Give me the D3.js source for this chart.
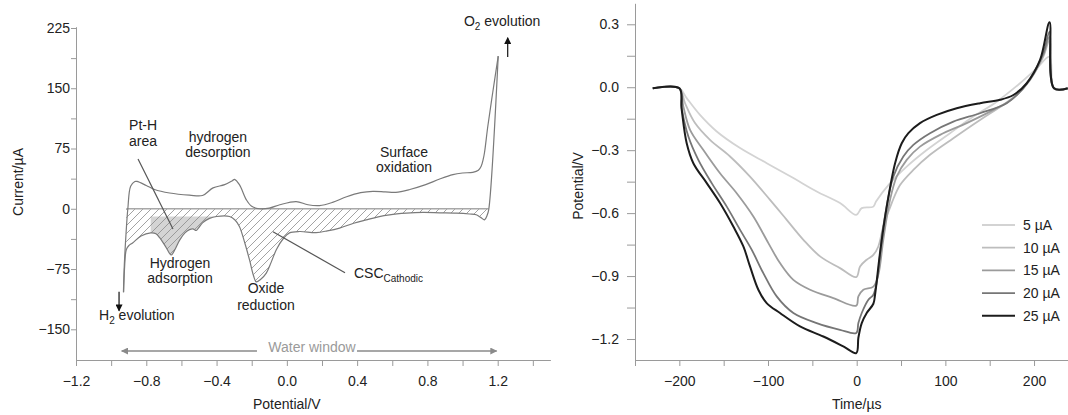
<!DOCTYPE html>
<html>
<head>
<meta charset="utf-8">
<script src="https://cdn.jsdelivr.net/npm/d3@7"></script>
<style>
body { margin: 0; background: #fff; }
svg { font-family: "Liberation Sans", Arial, sans-serif; }
.axis path, .axis line { stroke: #9a9a9a; }
.axis text { font-size: 14px; fill: #222; font-family: "Liberation Sans", Arial, sans-serif; }
.note { font-size: 14px; fill: #222; }
</style>
</head>
<body>
<svg id="fig" width="1068" height="415"></svg>
<script>
// ---- datos: voltamperometría (V, µA) ----
const cvAnodic = [[-0.93,-104],[-0.925,-70],[-0.915,-30],[-0.905,0],[-0.889,28],[-0.865,34],[-0.853,34],[-0.80,29],
  [-0.753,24],[-0.667,19.6],[-0.554,17],[-0.48,16.5],[-0.42,26],[-0.354,30],[-0.31,35],[-0.298,36.6],[-0.27,30],
  [-0.23,11],[-0.2,3],[-0.156,0],[-0.1,0.8],[-0.04,5],[0.053,9],[0.12,5],[0.186,4],[0.26,8],[0.34,15],[0.42,20],
  [0.49,21.7],[0.56,21],[0.62,20.4],[0.70,24],[0.79,30],[0.87,37],[0.945,42.5],[1.0,44.5],[1.058,45.4],[1.09,48],
  [1.106,53],[1.118,62],[1.125,70],[1.144,103],[1.172,145],[1.203,190]];
const cvCathodic = [[-0.929,-104],[-0.924,-75],[-0.914,-51],[-0.9,-46],[-0.878,-42.5],[-0.83,-34],[-0.775,-30],
  [-0.745,-31],[-0.724,-36],[-0.69,-47],[-0.658,-57.5],[-0.635,-50],[-0.61,-39],[-0.58,-30],[-0.554,-26],[-0.535,-25],
  [-0.515,-27],[-0.50,-23],[-0.48,-17.5],[-0.44,-12],[-0.40,-9.6],[-0.326,-9.6],[-0.295,-14],[-0.27,-22],[-0.24,-42],
  [-0.212,-64],[-0.19,-83],[-0.174,-91],[-0.15,-88],[-0.117,-80],[-0.09,-67],[-0.06,-51],[-0.02,-37],[0.015,-30],
  [0.072,-28.3],[0.167,-29.6],[0.23,-27.5],[0.30,-24],[0.38,-18],[0.452,-13.75],[0.52,-10],[0.584,-7.5],[0.68,-5.5],
  [0.774,-4.6],[0.87,-5],[0.964,-5.4],[1.04,-6.5],[1.078,-7.5],[1.105,-11],[1.125,-13.75],[1.14,-8],[1.149,-1],[1.203,190]];
const ptHLevel = -9.6;           // tope del área Pt-H
const ptHRange = [-0.775, -0.33];
const cvTicksX = [-1.2,-1.0,-0.8,-0.6,-0.4,-0.2,0.0,0.2,0.4,0.6,0.8,1.0,1.2,1.4];
const cvTicksY = [-150,-112.5,-75,-37.5,0,37.5,75,112.5,150,187.5,225];

// ---- datos: transitorios de potencial (µs, V) ----
const pulseLabels = ["5 \u00b5A","10 \u00b5A","15 \u00b5A","20 \u00b5A","25 \u00b5A"];
const pulseColors = ["#d3d3d3","#bdbdbd","#9b9b9b","#767676","#1c1c1c"];
const p5 = [[-230,-0.005],[-200,-0.005],[-191.7,-0.052],[-176.7,-0.132],[-157.8,-0.211],[-131.5,-0.29],[-101.4,-0.362],
  [-71.4,-0.433],[-45.1,-0.497],[-18.8,-0.552],[-0.5,-0.608],[5.7,-0.576],[18.8,-0.569],[21.8,-0.545],[37.6,-0.457],
  [56.4,-0.378],[79,-0.299],[105.3,-0.219],[131.6,-0.14],[157.9,-0.069],[184.2,0.019],[203,0.09],[217.5,0.145],
  [222.5,-0.005],[238,-0.005]];
const p10 = [[-230,-0.005],[-200,-0.005],[-193.6,-0.076],[-182.3,-0.171],[-165.4,-0.251],[-142.8,-0.33],[-120.3,-0.426],
  [-97.7,-0.537],[-78.9,-0.632],[-60.1,-0.727],[-41.3,-0.806],[-18.8,-0.862],[-0.5,-0.905],[3.8,-0.854],[11.3,-0.822],
  [18.8,-0.799],[24.4,-0.759],[30,-0.664],[39.5,-0.552],[48.9,-0.466],[63.9,-0.394],[82.7,-0.322],[109,-0.243],
  [139.1,-0.156],[165.4,-0.084],[184.2,-0.021],[199.2,0.059],[210.5,0.146],[217.5,0.222],[222.5,-0.005],[238,-0.005]];
const p15 = [[-230,-0.005],[-200,-0.005],[-195.5,-0.092],[-187.9,-0.203],[-172.9,-0.299],[-154.1,-0.41],[-135.3,-0.505],
  [-116.5,-0.616],[-99.6,-0.743],[-86.5,-0.838],[-71.4,-0.918],[-52.6,-0.965],[-26.3,-1.005],[-0.5,-1.041],[1.9,-0.997],
  [7.5,-0.965],[18.8,-0.95],[24.4,-0.894],[30,-0.727],[37.6,-0.537],[45.1,-0.426],[56.4,-0.346],[71.4,-0.283],
  [94,-0.227],[124,-0.171],[154.1,-0.108],[176.7,-0.052],[195.5,0.035],[210.5,0.154],[217.5,0.24],[222.5,-0.005],[238,-0.005]];
const p20 = [[-230,-0.005],[-200,-0.005],[-197.7,-0.092],[-189.8,-0.235],[-178.6,-0.346],[-163.5,-0.457],[-146.5,-0.569],
  [-131.5,-0.68],[-118.3,-0.775],[-105.3,-0.886],[-90.2,-0.997],[-71.4,-1.076],[-45.1,-1.124],[-18.8,-1.156],[-0.5,-1.171],
  [1.9,-1.124],[5.7,-1.076],[13.2,-1.013],[18.8,-0.989],[22.6,-0.93],[30,-0.664],[41.3,-0.426],[52.6,-0.33],[63.9,-0.275],
  [82.7,-0.219],[109,-0.164],[139.1,-0.124],[169.2,-0.076],[184.2,-0.021],[199.2,0.067],[210.5,0.162],[217.5,0.265],
  [222.5,-0.005],[238,-0.005]];
const p25 = [[-230,-0.005],[-200,-0.005],[-197.3,-0.108],[-191.7,-0.267],[-184.2,-0.362],[-169.1,-0.457],[-154.1,-0.552],
  [-139.1,-0.664],[-127.8,-0.759],[-120.3,-0.854],[-110.9,-0.965],[-101.5,-1.029],[-86.5,-1.076],[-63.9,-1.14],
  [-37.6,-1.188],[-15.1,-1.235],[-0.5,-1.267],[1.9,-1.194],[5.7,-1.124],[11.3,-1.076],[18.8,-1.032],[20.7,-0.989],
  [26.3,-0.79],[33.9,-0.569],[43.3,-0.362],[50.8,-0.267],[58.3,-0.219],[71.4,-0.171],[90.3,-0.132],[112.8,-0.1],
  [139.1,-0.076],[161.7,-0.06],[176.7,-0.037],[191.8,0.019],[206.8,0.13],[217.5,0.31],[222.5,-0.005],[238,-0.005]];
const pulseSeries = [p5, p10, p15, p20, p25];
const pulseTicksX = [-250,-200,-150,-100,-50,0,50,100,150,200];
const pulseTicksY = [-1.2,-1.05,-0.9,-0.75,-0.6,-0.45,-0.3,-0.15,0.0,0.15,0.3];

const svg = d3.select("#fig");
const defs = svg.append("defs");
const fmt1 = d3.format(".1f");

// rayado diagonal
defs.append("pattern")
  .attr("id", "hatch").attr("patternUnits", "userSpaceOnUse")
  .attr("width", 8).attr("height", 8)
  .append("path")
  .attr("d", "M-2,2 L2,-2 M0,8 L8,0 M6,10 L10,6")
  .attr("stroke", "#8c8c8c").attr("stroke-width", 0.8);

// flechas
function marker(id, color, w, h) {
  defs.append("marker")
    .attr("id", id).attr("viewBox", "0 0 10 10")
    .attr("refX", 9).attr("refY", 5)
    .attr("markerUnits", "userSpaceOnUse")
    .attr("markerWidth", w).attr("markerHeight", h)
    .attr("orient", "auto-start-reverse")
    .append("path").attr("d", "M0,0 L10,5 L0,10 z").attr("fill", color);
}
marker("arrK", "#111", 8, 7);
marker("arrG", "#8a8a8a", 9, 7);

// ================= panel izquierdo =================
const xL = d3.scaleLinear().domain([-1.2, 1.5]).range([76, 550.4]);
const yL = d3.scaleLinear().domain([-188.2, 226.6]).range([360, 26.7]);

svg.append("g").attr("class", "axis")
  .attr("transform", `translate(0,${yL.range()[0]})`)
  .call(d3.axisBottom(xL).tickValues(cvTicksX).tickSize(6).tickPadding(10).tickSizeOuter(0)
    .tickFormat((d, i) => i % 2 ? "" : fmt1(d)));
svg.append("g").attr("class", "axis")
  .attr("transform", `translate(${xL.range()[0]},0)`)
  .call(d3.axisLeft(yL).tickValues(cvTicksY).tickSize(5).tickPadding(1).tickSizeOuter(0)
    .tickFormat(d => d % 75 === 0 ? d3.format("d")(d) : ""));

const cvLine = d3.line().x(d => xL(d[0])).y(d => yL(d[1])).curve(d3.curveCatmullRom.alpha(0.5));
const cvArea = d3.area().x(d => xL(d[0])).y0(yL(0)).y1(d => yL(d[1])).curve(d3.curveCatmullRom.alpha(0.5));
const hatchPts = cvCathodic.slice(2, -1);

defs.append("clipPath").attr("id", "clipPtH")
  .append("rect")
  .attr("x", xL(ptHRange[0])).attr("width", xL(ptHRange[1]) - xL(ptHRange[0]))
  .attr("y", yL(ptHLevel)).attr("height", yL(-150) - yL(ptHLevel));

svg.append("path").attr("d", cvArea(hatchPts)).attr("fill", "#d4d4d4").attr("clip-path", "url(#clipPtH)");
svg.append("path").attr("d", cvArea(hatchPts)).attr("fill", "url(#hatch)");
svg.append("line")
  .attr("x1", xL(hatchPts[0][0])).attr("x2", xL(hatchPts[hatchPts.length - 1][0]))
  .attr("y1", yL(0)).attr("y2", yL(0))
  .attr("stroke", "#a8a8a8").attr("stroke-width", 1.6);
svg.append("path").attr("d", cvLine(cvCathodic)).attr("fill", "none").attr("stroke", "#7a7a7a").attr("stroke-width", 1.2);
svg.append("path").attr("d", cvLine(cvAnodic)).attr("fill", "none").attr("stroke", "#7a7a7a").attr("stroke-width", 1.2);

// anotaciones
function note(x, y, lines, anchor) {
  lines.forEach((t, i) => {
    svg.append("text").attr("class", "note")
      .attr("x", xL(x)).attr("y", yL(y[i]))
      .attr("text-anchor", anchor || "middle").text(t);
  });
}
note(-0.898, [98.1, 78.2], ["Pt-H", "area"], "start");
note(-0.392, [83.5, 64.8], ["hydrogen", "desorption"]);
note(0.667, [64.5, 45.8], ["Surface", "oxidation"]);
note(-0.608, [-73.3, -92.3], ["Hydrogen", "adsorption"]);
note(-0.119, [-104.8, -126], ["Oxide", "reduction"]);

const o2 = svg.append("text").attr("class", "note").attr("x", xL(1.008)).attr("y", yL(227.5));
o2.append("tspan").text("O");
o2.append("tspan").attr("font-size", 10).attr("dy", 4).text("2");
o2.append("tspan").attr("dy", -4).text(" evolution");

const h2 = svg.append("text").attr("class", "note").attr("x", xL(-1.069)).attr("y", yL(-138.4));
h2.append("tspan").text("H");
h2.append("tspan").attr("font-size", 10).attr("dy", 4).text("2");
h2.append("tspan").attr("dy", -4).text(" evolution");

const csc = svg.append("text").attr("class", "note").attr("x", xL(0.382)).attr("y", yL(-86.5));
csc.append("tspan").text("CSC");
csc.append("tspan").attr("font-size", 10).attr("dy", 4).text("Cathodic");

function pointer(a, b, color) {
  svg.append("line")
    .attr("x1", xL(a[0])).attr("y1", yL(a[1])).attr("x2", xL(b[0])).attr("y2", yL(b[1]))
    .attr("stroke", color).attr("stroke-width", 1.2);
}
pointer([-0.847, 62.0], [-0.648, -25.1], "#555");
pointer([-0.079, -28.6], [0.331, -79.6], "#555");

svg.append("line")
  .attr("x1", xL(1.257)).attr("x2", xL(1.257)).attr("y1", yL(188.9)).attr("y2", yL(213))
  .attr("stroke", "#111").attr("stroke-width", 1.2).attr("marker-end", "url(#arrK)");
svg.append("line")
  .attr("x1", xL(-0.955)).attr("x2", xL(-0.955)).attr("y1", yL(-103.2)).attr("y2", yL(-127))
  .attr("stroke", "#111").attr("stroke-width", 1.2).attr("marker-end", "url(#arrK)");

// ventana de agua
const wwY = yL(-177.1);
svg.append("line")
  .attr("x1", xL(-0.94)).attr("x2", xL(1.194)).attr("y1", wwY).attr("y2", wwY)
  .attr("stroke", "#8a8a8a").attr("stroke-width", 1.5)
  .attr("marker-start", "url(#arrG)").attr("marker-end", "url(#arrG)");
svg.append("rect").attr("x", xL(0.143) - 55).attr("width", 100).attr("y", wwY - 14).attr("height", 18).attr("fill", "#fff");
svg.append("text").attr("class", "note").attr("x", xL(0.143)).attr("y", wwY + 1)
  .attr("text-anchor", "middle").style("fill", "#9a9a9a").text("Water window");

// títulos de ejes
svg.append("text").attr("class", "note").attr("text-anchor", "middle")
  .attr("x", xL(0)).attr("y", 409).text("Potential/V");
svg.append("text").attr("class", "note").attr("text-anchor", "middle")
  .attr("transform", "translate(23,182) rotate(-90)").text("Current/\u00b5A");

// ================= panel derecho =================
const xR = d3.scaleLinear().domain([-250, 238.3]).range([635, 1068]);
const yR = d3.scaleLinear().domain([-1.3, 0.4]).range([360, 3.3]);

svg.append("g").attr("class", "axis")
  .attr("transform", `translate(0,${yR.range()[0]})`)
  .call(d3.axisBottom(xR).tickValues(pulseTicksX).tickSize(6).tickPadding(10).tickSizeOuter(0)
    .tickFormat(d => d % 100 === 0 ? d3.format("d")(d) : ""));
svg.append("g").attr("class", "axis")
  .attr("transform", `translate(${xR.range()[0]},0)`)
  .call(d3.axisLeft(yR).tickValues(pulseTicksY).tickSize(8).tickPadding(8).tickSizeOuter(0)
    .tickFormat((d, i) => i % 2 ? "" : fmt1(d)));

const pLine = d3.line().x(d => xR(d[0])).y(d => yR(d[1])).curve(d3.curveCatmullRom.alpha(0.5));
pulseSeries.forEach((s, i) => {
  svg.append("path").attr("d", pLine(s)).attr("fill", "none")
    .attr("stroke", pulseColors[i]).attr("stroke-width", i === 4 ? 2 : 1.8)
    .attr("stroke-linejoin", "round");
});

// leyenda
const leg = svg.append("g").attr("transform", "translate(982,225)");
pulseLabels.forEach((t, i) => {
  const row = leg.append("g").attr("transform", `translate(0,${i * 22.7})`);
  row.append("line").attr("x1", 0).attr("x2", 33).attr("stroke", pulseColors[i]).attr("stroke-width", i === 4 ? 2 : 1.8);
  row.append("text").attr("class", "note").attr("x", 41).attr("dy", "0.35em").text(t);
});

svg.append("text").attr("class", "note").attr("text-anchor", "middle")
  .attr("x", xR(0)).attr("y", 409).text("Time/\u00b5s");
svg.append("text").attr("class", "note").attr("text-anchor", "middle")
  .attr("transform", "translate(583,186) rotate(-90)").text("Potential/V");
</script>
</body>
</html>
